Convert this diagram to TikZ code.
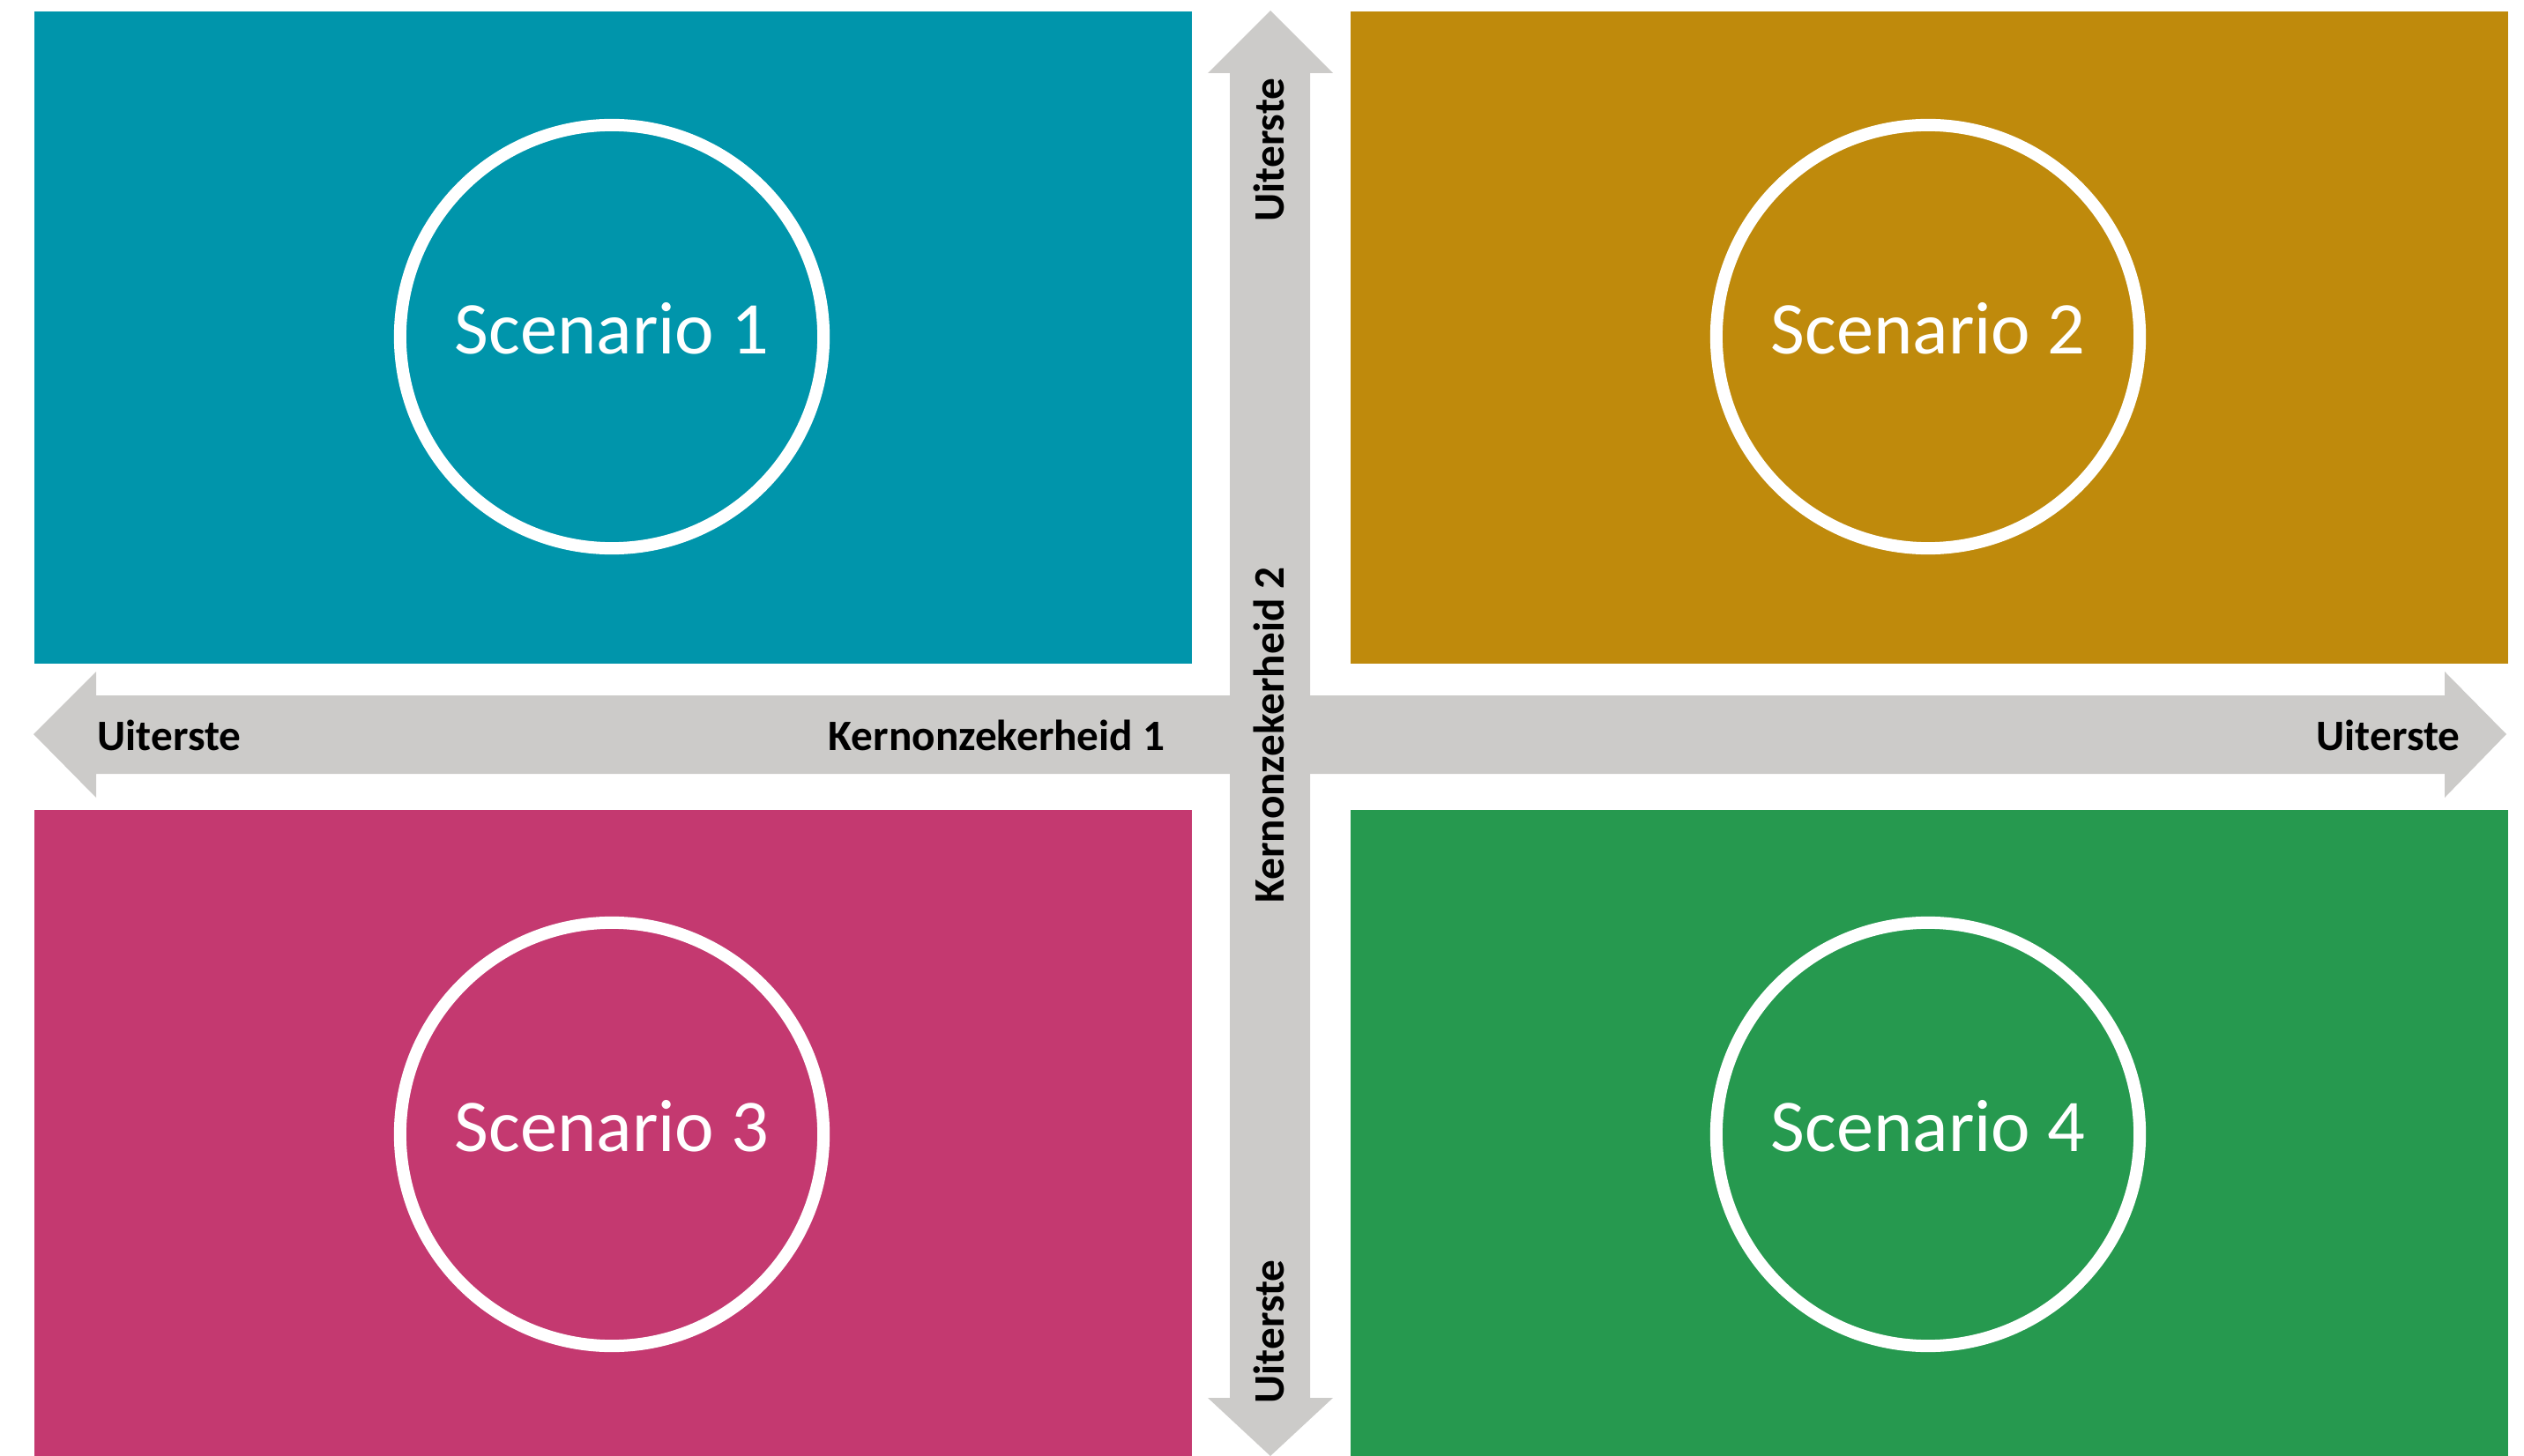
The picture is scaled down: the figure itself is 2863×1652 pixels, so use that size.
\documentclass[tikz,border=0pt]{standalone}
\usepackage{fontspec}
\setmainfont{Carlito}

\definecolor{sctealc}{RGB}{0,149,171}
\definecolor{scgoldc}{RGB}{191,138,12}
\definecolor{scrosec}{RGB}{196,57,112}
\definecolor{scgreenc}{RGB}{38,153,79}
\definecolor{axisgray}{RGB}{204,203,201}

\tikzset{%
  % Specifications for style of nodes:
       field/.style = {rectangle, anchor=north west, inner sep=0pt, minimum width=13.13cm},
        ring/.style = {circle, draw=white, line width=0.14cm, minimum size=4.80cm, inner sep=0pt},
      sctext/.style = {text=white, inner sep=0pt, yshift=0.09cm, font=\fontsize{24}{28}\selectfont},
   axislabel/.style = {inner sep=0pt, font=\bfseries\fontsize{14}{16}\selectfont},
}

\begin{document}
\begin{tikzpicture}[x=0.01cm, y=-0.01cm]
    \useasboundingbox (0,0) rectangle (2863,1652);

    % Draw fields
    \node (field1) [field, fill=sctealc, minimum height=7.40cm]  at (38,12)    {};
    \node (field2) [field, fill=scgoldc, minimum height=7.40cm]  at (1531,12)  {};
    \node (field3) [field, fill=scrosec, minimum height=7.34cm]  at (38,918)   {};
    \node (field4) [field, fill=scgreenc, minimum height=7.34cm] at (1531,918) {};

    % Draw axes
    \fill[axisgray] (38,833) -- (109,762) -- (109,789) -- (2773,789) -- (2773,762) -- (2843,833)
                    -- (2773,905) -- (2773,878) -- (109,878) -- (109,905) -- cycle;
    \fill[axisgray] (1441,12) -- (1512,83) -- (1486,83) -- (1486,1586) -- (1512,1586) -- (1441,1652)
                    -- (1370,1586) -- (1395,1586) -- (1395,83) -- (1370,83) -- cycle;

    % Draw scenarios
    \node (sc1) [ring, label={[sctext]center:Scenario 1}] at (694,382)   {};
    \node (sc2) [ring, label={[sctext]center:Scenario 2}] at (2187,382)  {};
    \node (sc3) [ring, label={[sctext]center:Scenario 3}] at (694,1287)  {};
    \node (sc4) [ring, label={[sctext]center:Scenario 4}] at (2187,1287) {};

    % Draw axis labels
    \node (left)   [axislabel, anchor=west]              at (110,834)  {Uiterste};
    \node (unc1)   [axislabel, anchor=east]              at (1322,834) {Kernonzekerheid 1};
    \node (right)  [axislabel, anchor=east]              at (2791,834) {Uiterste};
    \node (top)    [axislabel, rotate=90, anchor=east]   at (1439,88)  {Uiterste};
    \node (unc2)   [axislabel, rotate=90]                at (1439,834) {Kernonzekerheid 2};
    \node (bottom) [axislabel, rotate=90, anchor=west]   at (1439,1593) {Uiterste};
\end{tikzpicture}
\end{document}
